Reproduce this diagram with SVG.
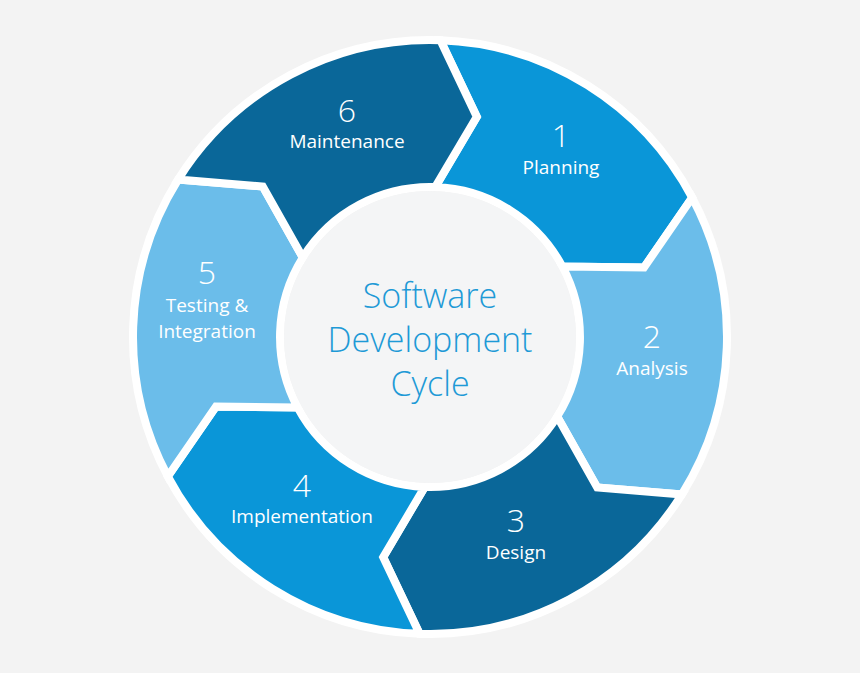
<svg xmlns="http://www.w3.org/2000/svg" width="860" height="673" viewBox="0 0 860 673">
<style>
.seg{stroke:#fff;stroke-width:8;stroke-linejoin:miter}
.num{font-family:"Open Sans","Liberation Sans",sans-serif;font-size:32px;font-weight:300;fill:#fff;text-anchor:middle}
.lab{font-family:"Open Sans","Liberation Sans",sans-serif;font-size:19px;fill:#fff;text-anchor:middle}
.ctr{font-family:"Open Sans","Liberation Sans",sans-serif;font-size:34px;font-weight:300;fill:#1e9ad6;text-anchor:middle}
</style>
<rect width="860" height="673" fill="#f3f3f3"/>
<g id="connectors"/>
<g id="n1"><path class="seg" fill="#0a96d8" d="M440.4,40.2 A297,297 0 0 1 692.2,197.6 L644.0,267.5 L562.4,266.6 A150,150 0 0 0 435.2,187.1 L476.8,116.9 Z"/><text class="num" x="561" y="147">1</text><text class="lab" x="561" y="174">Planning</text></g>
<g id="n2"><path class="seg" fill="#6bbdea" d="M692.2,197.6 A297,297 0 0 1 681.9,494.4 L597.2,487.5 L557.2,416.5 A150,150 0 0 0 562.4,266.6 L644.0,267.5 Z"/><text class="num" x="652" y="348">2</text><text class="lab" x="652" y="375">Analysis</text></g>
<g id="n3"><path class="seg" fill="#0a6799" d="M681.9,494.4 A297,297 0 0 1 419.6,633.8 L383.2,557.1 L424.8,486.9 A150,150 0 0 0 557.2,416.5 L597.2,487.5 Z"/><text class="num" x="516" y="532">3</text><text class="lab" x="516" y="559">Design</text></g>
<g id="n4"><path class="seg" fill="#0a96d8" d="M419.6,633.8 A297,297 0 0 1 167.8,476.4 L216.0,406.5 L297.6,407.4 A150,150 0 0 0 424.8,486.9 L383.2,557.1 Z"/><text class="num" x="302" y="497">4</text><text class="lab" x="302" y="523">Implementation</text></g>
<g id="n5"><path class="seg" fill="#6bbdea" d="M167.8,476.4 A297,297 0 0 1 178.1,179.6 L262.8,186.5 L302.8,257.5 A150,150 0 0 0 297.6,407.4 L216.0,406.5 Z"/><text class="num" x="207" y="284">5</text><text class="lab" x="207" y="312">Testing &amp;</text><text class="lab" x="207" y="338">Integration</text></g>
<g id="n6"><path class="seg" fill="#0a6799" d="M178.1,179.6 A297,297 0 0 1 440.4,40.2 L476.8,116.9 L435.2,187.1 A150,150 0 0 0 302.8,257.5 L262.8,186.5 Z"/><text class="num" x="347" y="122">6</text><text class="lab" x="347" y="148">Maintenance</text></g>
<g id="center"><circle cx="430" cy="337" r="146" fill="#f4f5f6"/><text class="ctr" x="430" y="308">Software</text><text class="ctr" x="430" y="352">Development</text><text class="ctr" x="430" y="396">Cycle</text></g>
</svg>
